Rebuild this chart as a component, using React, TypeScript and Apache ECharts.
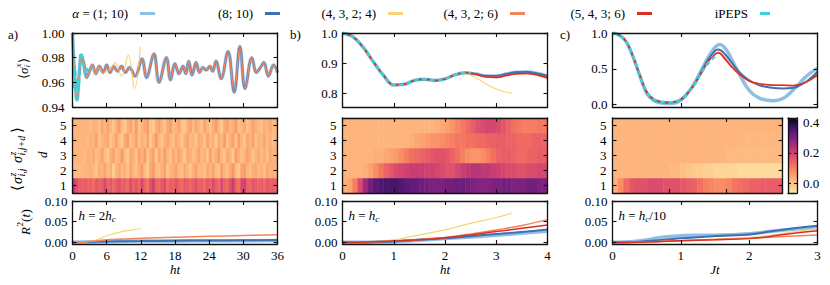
import React, { useEffect, useRef } from 'react';
import * as echarts from 'echarts';

const FONT = 'Liberation Serif';

// ---------- legend / series ----------
const NAMES = ['α = (1; 10)', '(8; 10)', '(4, 3, 2; 4)', '(4, 3, 2; 6)', '(5, 4, 3; 6)', 'iPEPS'];
const COLORS = ['#8fbfe2', '#3f6fb4', '#f9d477', '#f4845a', '#d62f24', '#3fcfd8'];
const WIDTHS = [3.5, 2, 1.2, 1.5, 1.5, 2.5];

// ---------- tick labels ----------
const D_LABELS = ['1', '2', '3', '4', '5'];
const Y1A_TICKS = [0.94, 0.96, 0.98, 1.0];
const Y1B_TICKS = [0.8, 0.9, 1.0];
const Y1C_TICKS = [0, 0.5, 1.0];
const Y3_TICKS = [0, 0.05, 0.1];
const CB_TICKS = [0, 0.2, 0.4];

type P = [number, number][];

// ---------- panel a, <sigma^x> ----------
const aMain: P = [[0, 1.0], [0.35, 0.968], [0.8, 0.946], [1.2, 0.968], [1.6, 0.982], [2.0, 0.975], [2.5, 0.964], [3.0, 0.969], [3.5, 0.974], [4.1, 0.967], [4.7, 0.973], [5.4, 0.968], [6.0, 0.974], [6.6, 0.968], [7.2, 0.973], [7.9, 0.969], [8.6, 0.973], [9.3, 0.968], [10.0, 0.972], [11.0, 0.965], [12.2, 0.979], [13.0, 0.964], [14.3, 0.983], [15.2, 0.96], [16.5, 0.98], [17.2, 0.962], [18.0, 0.975], [18.7, 0.967], [19.4, 0.973], [19.9, 0.967], [20.4, 0.977], [21.0, 0.966], [21.7, 0.976], [22.3, 0.968], [22.9, 0.972], [23.5, 0.97], [24.1, 0.973], [24.6, 0.969], [25.2, 0.977], [26.1, 0.963], [27.3, 0.985], [28.4, 0.952], [29.4, 0.989], [30.3, 0.955], [31.5, 0.98], [32.3, 0.968], [33.0, 0.972], [33.6, 0.976], [34.4, 0.965], [35.3, 0.974], [36.0, 0.968]];
const aYellow: P = [[0, 1.0], [0.35, 0.968], [0.8, 0.946], [1.2, 0.968], [1.6, 0.982], [2.0, 0.975], [2.5, 0.964], [3.0, 0.969], [3.5, 0.974], [4.1, 0.967], [4.7, 0.973], [5.4, 0.968], [6.5, 0.97], [7.5, 0.976], [8.6, 0.965], [9.8, 0.982], [10.9, 0.955], [11.9, 0.989]];
const aCyan: P = [[0, 1.0], [0.15, 0.985], [0.3, 0.955], [0.45, 0.972], [0.6, 0.948], [0.75, 0.944], [0.9, 0.962], [1.05, 0.953], [1.25, 0.972], [1.45, 0.984], [1.7, 0.98], [1.95, 0.972], [2.2, 0.967], [2.5, 0.971], [2.8, 0.968], [3.0, 0.971]];

// ---------- panel b ----------
const bBlue: P = [[0, 1.0], [0.2, 0.988], [0.4, 0.953], [0.6, 0.905], [0.8, 0.86], [1.0, 0.828], [1.2, 0.83], [1.4, 0.843], [1.6, 0.847], [1.8, 0.843], [2.0, 0.848], [2.2, 0.862], [2.4, 0.868], [2.6, 0.864], [2.8, 0.858], [3.0, 0.858], [3.2, 0.864], [3.4, 0.87], [3.6, 0.871], [3.8, 0.866], [4.0, 0.858]];
const bRed: P = [[0, 1.0], [0.2, 0.988], [0.4, 0.953], [0.6, 0.905], [0.8, 0.86], [1.0, 0.828], [1.2, 0.83], [1.4, 0.843], [1.6, 0.847], [1.8, 0.843], [2.0, 0.848], [2.2, 0.862], [2.4, 0.868], [2.6, 0.863], [2.8, 0.855], [3.0, 0.853], [3.2, 0.859], [3.4, 0.865], [3.6, 0.866], [3.8, 0.861], [4.0, 0.852]];
const bOrange: P = [[0, 1.0], [0.2, 0.988], [0.4, 0.953], [0.6, 0.905], [0.8, 0.86], [1.0, 0.828], [1.2, 0.83], [1.4, 0.843], [1.6, 0.847], [1.8, 0.843], [2.0, 0.848], [2.2, 0.862], [2.4, 0.868], [2.6, 0.863], [2.8, 0.855], [3.0, 0.853], [3.2, 0.859], [3.4, 0.865], [3.6, 0.866], [3.8, 0.86], [4.0, 0.849]];
const bYellow: P = [[0, 1.0], [0.2, 0.988], [0.4, 0.953], [0.6, 0.905], [0.8, 0.86], [1.0, 0.828], [1.2, 0.83], [1.4, 0.843], [1.6, 0.847], [1.8, 0.843], [2.0, 0.848], [2.2, 0.862], [2.3, 0.866], [2.5, 0.86], [2.7, 0.842], [2.9, 0.822], [3.1, 0.808], [3.3, 0.802]];
const bCyan: P = [[0, 1.0], [0.2, 0.988], [0.4, 0.953], [0.6, 0.905], [0.8, 0.86], [1.0, 0.828], [1.2, 0.83], [1.4, 0.843], [1.6, 0.847], [1.8, 0.843], [2.0, 0.848], [2.2, 0.862], [2.4, 0.868], [2.5, 0.867]];

// ---------- panel c ----------
const cLight: P = [[0, 1.0], [0.1, 0.97], [0.2, 0.88], [0.3, 0.67], [0.4, 0.4], [0.5, 0.16], [0.6, 0.06], [0.7, 0.025], [0.8, 0.015], [0.9, 0.02], [1.0, 0.06], [1.1, 0.16], [1.2, 0.3], [1.3, 0.48], [1.4, 0.66], [1.5, 0.8], [1.57, 0.84], [1.67, 0.76], [1.77, 0.58], [1.86, 0.42], [2.0, 0.2], [2.15, 0.09], [2.35, 0.055], [2.5, 0.09], [2.64, 0.2], [2.75, 0.31], [2.84, 0.4], [3.0, 0.51]];
const cDark: P = [[0, 1.0], [0.1, 0.97], [0.2, 0.88], [0.3, 0.67], [0.4, 0.41], [0.5, 0.17], [0.6, 0.07], [0.7, 0.035], [0.8, 0.028], [0.9, 0.033], [1.0, 0.07], [1.1, 0.16], [1.2, 0.29], [1.3, 0.46], [1.4, 0.63], [1.5, 0.75], [1.55, 0.77], [1.65, 0.7], [1.75, 0.58], [1.85, 0.46], [2.0, 0.34], [2.15, 0.27], [2.3, 0.24], [2.5, 0.225], [2.65, 0.235], [2.8, 0.3], [2.9, 0.37], [3.0, 0.46]];
const cOrange: P = [[0, 1.0], [0.1, 0.97], [0.2, 0.88], [0.3, 0.67], [0.4, 0.41], [0.5, 0.18], [0.6, 0.08], [0.7, 0.045], [0.8, 0.035], [0.9, 0.04], [1.0, 0.075], [1.1, 0.16], [1.2, 0.28], [1.3, 0.44], [1.4, 0.6], [1.5, 0.71], [1.55, 0.73], [1.65, 0.65], [1.75, 0.53], [1.85, 0.43], [2.0, 0.33], [2.15, 0.29], [2.3, 0.275], [2.5, 0.27], [2.65, 0.27], [2.8, 0.3], [2.9, 0.35], [3.0, 0.41]];
const cRed: P = [[0, 1.0], [0.1, 0.97], [0.2, 0.88], [0.3, 0.67], [0.4, 0.41], [0.5, 0.18], [0.6, 0.08], [0.7, 0.045], [0.8, 0.035], [0.9, 0.04], [1.0, 0.075], [1.1, 0.16], [1.2, 0.28], [1.3, 0.44], [1.4, 0.6], [1.5, 0.7], [1.55, 0.72], [1.65, 0.63], [1.75, 0.52], [1.85, 0.43], [2.0, 0.33], [2.15, 0.29], [2.3, 0.275], [2.5, 0.27], [2.65, 0.265], [2.8, 0.3], [2.9, 0.35], [3.0, 0.42]];
const cCyan: P = [[0, 1.0], [0.1, 0.97], [0.2, 0.88], [0.3, 0.67], [0.4, 0.41], [0.5, 0.18], [0.6, 0.08], [0.7, 0.045], [0.8, 0.035], [0.9, 0.04], [1.0, 0.075], [1.1, 0.16], [1.2, 0.28], [1.3, 0.44], [1.4, 0.58], [1.5, 0.67]];

// ---------- R^2(t) ----------
const aR_light: P = [[0, 0], [3, 0.001], [6, 0.002], [12, 0.003], [18, 0.0035], [24, 0.004], [30, 0.004], [36, 0.0045]];
const aR_dark: P = [[0, 0], [3, 0.001], [6, 0.002], [12, 0.003], [18, 0.004], [24, 0.0045], [30, 0.005], [36, 0.0055]];
const aR_yellow: P = [[0, 0], [2, 0.001], [3, 0.002], [4, 0.005], [5, 0.01], [6, 0.016], [7, 0.02], [8, 0.0235], [9, 0.027], [10, 0.029], [11, 0.031], [12, 0.033]];
const aR_orange: P = [[0, 0], [2, 0.001], [4, 0.003], [6, 0.006], [9, 0.008], [12, 0.01], [18, 0.0125], [24, 0.0145], [30, 0.0165], [36, 0.0185]];
const bR_light: P = [[0, 0], [0.5, 0.0005], [1, 0.002], [1.5, 0.005], [2, 0.009], [2.5, 0.013], [3, 0.017], [3.5, 0.022], [4, 0.027]];
const bR_dark: P = [[0, 0], [0.5, 0.0005], [1, 0.002], [1.5, 0.006], [2, 0.01], [2.5, 0.015], [3, 0.02], [3.5, 0.025], [4, 0.031]];
const bR_yellow: P = [[0, 0], [0.5, 0.001], [1, 0.006], [1.5, 0.018], [2, 0.03], [2.5, 0.046], [3, 0.06], [3.3, 0.071]];
const bR_orange: P = [[0, 0], [0.5, 0.001], [1, 0.003], [1.5, 0.007], [2, 0.012], [2.5, 0.02], [3, 0.03], [3.5, 0.041], [4, 0.055]];
const bR_red: P = [[0, 0], [0.5, 0.001], [1, 0.003], [1.5, 0.006], [2, 0.011], [2.5, 0.018], [3, 0.026], [3.5, 0.034], [4, 0.042]];
const cR_light: P = [[0, 0], [0.3, 0.002], [0.5, 0.006], [0.7, 0.012], [0.9, 0.015], [1.2, 0.017], [1.6, 0.018], [2.0, 0.021], [2.3, 0.026], [2.6, 0.031], [3.0, 0.036]];
const cR_dark: P = [[0, 0], [0.3, 0.001], [0.5, 0.003], [0.8, 0.007], [1.0, 0.01], [1.3, 0.013], [1.6, 0.016], [2.0, 0.019], [2.3, 0.026], [2.6, 0.033], [3.0, 0.04]];
const cR_yellow: P = [[0, 0], [0.5, 0.001], [1.0, 0.005], [1.5, 0.008], [2.0, 0.012], [2.3, 0.017], [2.6, 0.024], [3.0, 0.033]];
const cR_orange: P = [[0, 0], [0.5, 0.001], [1.0, 0.004], [1.5, 0.007], [2.0, 0.01], [2.5, 0.014], [3.0, 0.018]];
const cR_red: P = [[0, 0], [0.5, 0.001], [1.0, 0.004], [1.5, 0.006], [2.0, 0.009], [2.3, 0.014], [2.6, 0.021], [3.0, 0.028]];

// ---------- heatmaps: rows d = 1..5 ----------
const hmA1 = [0.22, 0.18, 0.15, 0.14, 0.15, 0.14, 0.15, 0.13, 0.16, 0.14, 0.15, 0.19, 0.14, 0.16, 0.13, 0.15, 0.17, 0.14, 0.15, 0.13, 0.18, 0.14, 0.16, 0.13, 0.19, 0.14, 0.12, 0.17, 0.2, 0.14, 0.13, 0.16, 0.18, 0.13, 0.15, 0.14, 0.17, 0.14, 0.13, 0.16, 0.15, 0.13, 0.15, 0.17, 0.14, 0.15, 0.13, 0.16, 0.14, 0.18, 0.15, 0.13, 0.19, 0.14, 0.13, 0.17, 0.21, 0.14, 0.12, 0.19, 0.2, 0.14, 0.13, 0.16, 0.15, 0.14, 0.15, 0.13, 0.16, 0.14, 0.15, 0.14];
const hmA2 = [0.01, 0.01, 0.01, 0.01, 0.02, 0.02, 0.03, 0.01, -0.01, 0.03, 0.02, 0.05, 0.01, 0.03, -0.02, 0.02, 0.04, 0.01, 0.03, -0.01, 0.05, 0.02, 0.0, 0.03, 0.06, 0.01, -0.02, 0.04, 0.06, 0.01, 0.0, 0.03, 0.05, -0.01, 0.02, 0.03, 0.05, 0.01, 0.0, 0.04, 0.02, -0.01, 0.03, 0.05, 0.01, 0.02, 0.0, 0.04, 0.02, 0.05, 0.01, -0.01, 0.06, 0.02, 0.0, 0.04, 0.07, 0.01, -0.02, 0.05, 0.06, 0.02, 0.0, 0.03, 0.04, 0.01, 0.03, 0.0, 0.04, 0.02, 0.03, 0.02];
const hmA3 = [0.02, 0.02, 0.02, 0.02, 0.01, 0.03, 0.02, 0.04, 0.0, 0.02, 0.05, 0.01, -0.02, 0.03, 0.05, 0.0, 0.02, 0.06, 0.01, -0.02, 0.04, 0.03, -0.01, 0.05, 0.02, 0.06, -0.01, 0.03, 0.05, -0.02, 0.04, 0.01, 0.06, 0.02, -0.01, 0.04, 0.01, 0.05, 0.02, -0.01, 0.04, 0.03, 0.0, 0.02, 0.05, 0.01, 0.03, -0.01, 0.05, 0.0, 0.03, 0.06, 0.01, -0.01, 0.04, 0.02, -0.02, 0.06, 0.03, 0.0, 0.02, 0.05, 0.03, -0.01, 0.02, 0.04, 0.01, 0.03, 0.0, 0.04, 0.02, 0.03];
const hmA4 = [0.02, 0.02, 0.02, 0.02, 0.02, 0.01, 0.03, 0.02, 0.05, -0.01, 0.02, 0.03, 0.04, -0.01, 0.02, 0.05, 0.01, -0.02, 0.04, 0.06, 0.0, 0.02, 0.05, -0.01, 0.03, 0.01, 0.05, -0.02, 0.02, 0.06, 0.01, -0.01, 0.03, 0.05, 0.02, 0.0, 0.04, 0.02, -0.01, 0.03, 0.05, 0.01, 0.02, -0.01, 0.04, 0.03, 0.0, 0.05, 0.01, 0.03, -0.02, 0.04, 0.02, 0.06, -0.01, 0.03, 0.05, 0.0, 0.06, 0.02, -0.01, 0.04, 0.02, 0.05, 0.0, 0.03, 0.02, 0.04, 0.01, 0.03, 0.0, 0.02];
const hmA5 = [0.02, 0.02, 0.02, 0.02, 0.02, 0.02, 0.01, 0.03, 0.02, 0.0, 0.04, 0.02, 0.05, 0.02, -0.01, 0.03, 0.06, 0.01, -0.02, 0.03, 0.05, 0.01, 0.06, -0.01, 0.02, 0.04, 0.06, 0.0, -0.02, 0.03, 0.05, 0.02, -0.01, 0.04, 0.06, 0.01, 0.02, 0.05, 0.0, -0.01, 0.03, 0.05, 0.01, 0.04, 0.02, 0.0, 0.05, 0.02, -0.01, 0.03, 0.06, 0.02, -0.02, 0.04, 0.05, 0.01, 0.03, 0.06, 0.0, 0.02, 0.04, -0.01, 0.02, 0.05, 0.03, 0.01, 0.0, 0.03, 0.02, 0.04, 0.01, 0.02];

const hmB1 = [0.03, 0.05, 0.1, 0.18, 0.26, 0.31, 0.34, 0.35, 0.36, 0.36, 0.36, 0.35, 0.34, 0.33, 0.33, 0.32, 0.31, 0.3, 0.3, 0.3, 0.31, 0.31, 0.32, 0.32, 0.31, 0.3, 0.29, 0.29, 0.29, 0.3, 0.3, 0.31, 0.31, 0.3, 0.3, 0.3, 0.31, 0.31, 0.3, 0.3];
const hmB2 = [0.02, 0.02, 0.02, 0.02, 0.03, 0.05, 0.08, 0.11, 0.14, 0.16, 0.18, 0.19, 0.2, 0.21, 0.21, 0.21, 0.2, 0.2, 0.19, 0.18, 0.17, 0.17, 0.19, 0.21, 0.22, 0.23, 0.23, 0.22, 0.22, 0.21, 0.2, 0.19, 0.18, 0.18, 0.17, 0.17, 0.18, 0.18, 0.19, 0.19];
const hmB3 = [0.02, 0.02, 0.02, 0.02, 0.02, 0.02, 0.03, 0.03, 0.04, 0.05, 0.06, 0.08, 0.1, 0.12, 0.13, 0.14, 0.15, 0.16, 0.17, 0.17, 0.16, 0.14, 0.12, 0.1, 0.08, 0.07, 0.07, 0.08, 0.1, 0.12, 0.14, 0.15, 0.15, 0.14, 0.13, 0.13, 0.14, 0.14, 0.15, 0.15];
const hmB4 = [0.02, 0.02, 0.02, 0.02, 0.02, 0.02, 0.02, 0.02, 0.02, 0.02, 0.02, 0.02, 0.02, 0.03, 0.04, 0.05, 0.06, 0.07, 0.07, 0.08, 0.09, 0.1, 0.11, 0.11, 0.12, 0.12, 0.13, 0.13, 0.14, 0.14, 0.15, 0.15, 0.14, 0.14, 0.13, 0.13, 0.13, 0.14, 0.14, 0.14];
const hmB5 = [0.02, 0.02, 0.02, 0.02, 0.02, 0.02, 0.02, 0.02, 0.02, 0.02, 0.02, 0.02, 0.02, 0.02, 0.02, 0.02, 0.02, 0.02, 0.03, 0.04, 0.05, 0.07, 0.09, 0.11, 0.13, 0.15, 0.17, 0.18, 0.19, 0.19, 0.18, 0.16, 0.14, 0.12, 0.11, 0.1, 0.1, 0.1, 0.11, 0.11];

const hmC1 = [0.03, 0.08, 0.13, 0.16, 0.17, 0.17, 0.18, 0.18, 0.18, 0.17, 0.17, 0.17, 0.16, 0.15, 0.14, 0.12, 0.1, 0.09, 0.08, 0.08, 0.09, 0.11, 0.12, 0.13, 0.14, 0.14, 0.15, 0.15, 0.15, 0.15];
const hmC2 = [0.02, 0.02, 0.02, 0.02, 0.02, 0.02, 0.02, 0.02, 0.02, 0.02, 0.01, 0.01, 0.0, -0.01, -0.02, -0.02, -0.03, -0.03, -0.04, -0.04, -0.04, -0.04, -0.05, -0.05, -0.05, -0.05, -0.05, -0.05, -0.05, -0.05];
const hmC3 = [0.02, 0.02, 0.02, 0.02, 0.02, 0.02, 0.02, 0.02, 0.02, 0.02, 0.02, 0.02, 0.02, 0.02, 0.02, 0.02, 0.02, 0.02, 0.02, 0.02, 0.01, 0.01, 0.01, 0.01, 0.01, 0.01, 0.01, 0.01, 0.01, 0.01];
const hmC4 = [0.02, 0.02, 0.02, 0.02, 0.02, 0.02, 0.02, 0.02, 0.02, 0.02, 0.02, 0.02, 0.02, 0.02, 0.02, 0.02, 0.02, 0.02, 0.02, 0.02, 0.02, 0.02, 0.015, 0.015, 0.015, 0.015, 0.015, 0.015, 0.015, 0.015];
const hmC5 = [0.02, 0.02, 0.02, 0.02, 0.02, 0.02, 0.02, 0.02, 0.02, 0.02, 0.02, 0.02, 0.02, 0.02, 0.02, 0.02, 0.02, 0.02, 0.02, 0.02, 0.02, 0.02, 0.02, 0.02, 0.02, 0.02, 0.02, 0.02, 0.02, 0.02];

const CMAP = ['#fce3a3', '#fdcb8e', '#fdb27b', '#fb9468', '#f4735f', '#e45769', '#cc3f71', '#a72f7b', '#80237f', '#5a1a78', '#2f1057', '#07061c'];
const CB_MIN = -0.065;
const CB_MAX = 0.43;

// ---------- layout ----------
const COLS = [72.5, 342.5, 612.5];
const W = 205;
const R1 = { top: 33, h: 74 };
const R2 = { top: 118, h: 75 };
const R3 = { top: 201, h: 43 };

const LINE = { show: true, onZero: false, lineStyle: { color: '#111', width: 1.3 } };
const TICK = { show: true, inside: true, length: 4, lineStyle: { color: '#111', width: 1.1 } };
const LBL = { color: '#000', fontSize: 13, fontFamily: FONT };

function buildOption() {
  const grids: any[] = [];
  const xAxes: any[] = [];
  const yAxes: any[] = [];
  const series: any[] = [];
  const heatIdx: number[] = [];

  function linePanel(left: number, top: number, height: number, xr: number[], yr: number[], yTicks: number[], yDec: number, lines: [number, P][], xLabels: boolean, xName?: string, yMargin = 6) {
    const g = grids.length;
    grids.push({ left, top, width: W, height });
    const xi = xAxes.length;
    xAxes.push({
      type: 'value', gridIndex: g, position: 'bottom', min: xr[0], max: xr[1], interval: xr[2], z: 10,
      axisLine: LINE, axisTick: TICK, splitLine: { show: false },
      axisLabel: { ...LBL, show: xLabels, margin: 5 },
      name: xName, nameLocation: 'middle', nameGap: 19,
      nameTextStyle: { ...LBL, fontStyle: 'italic' },
    });
    xAxes.push({
      type: 'value', gridIndex: g, position: 'top', min: xr[0], max: xr[1], interval: xr[2], z: 10,
      axisLine: LINE, axisTick: TICK, splitLine: { show: false }, axisLabel: { show: false },
    });
    const yi = yAxes.length;
    yAxes.push({
      type: 'value', gridIndex: g, position: 'left', min: yr[0], max: yr[1], z: 10,
      axisLine: LINE, axisTick: { ...TICK, customValues: yTicks }, splitLine: { show: false },
      axisLabel: { ...LBL, margin: yMargin, customValues: yTicks, formatter: (v: number) => v.toFixed(yDec) },
    });
    yAxes.push({
      type: 'value', gridIndex: g, position: 'right', min: yr[0], max: yr[1], z: 10,
      axisLine: LINE, axisTick: { ...TICK, customValues: yTicks }, splitLine: { show: false }, axisLabel: { show: false },
    });
    lines.forEach(([k, data]) => {
      series.push({
        type: 'line', name: NAMES[k], xAxisIndex: xi, yAxisIndex: yi, data,
        smooth: 0.4, symbol: 'none', showSymbol: false, silent: true, clip: true,
        color: COLORS[k], itemStyle: { color: COLORS[k] },
        lineStyle: { color: COLORS[k], width: WIDTHS[k], type: k === 5 ? [5, 3] : 'solid' },
        emphasis: { disabled: true }, z: 2 + k * 0.1,
      });
    });
  }

  function heatPanel(left: number, width: number, xr: number[], rows: number[][]) {
    const g = grids.length;
    grids.push({ left, top: R2.top, width, height: R2.h });
    const xi = xAxes.length;
    xAxes.push({ type: 'category', gridIndex: g, data: rows[0].map((_, i) => String(i)), show: false });
    const yi = yAxes.length;
    yAxes.push({
      type: 'category', gridIndex: g, position: 'left', data: D_LABELS, z: 10,
      axisLine: LINE, axisTick: { ...TICK, alignWithLabel: true, interval: 0 }, splitLine: { show: false },
      axisLabel: { ...LBL, margin: 6, interval: 0 },
    });
    yAxes.push({
      type: 'category', gridIndex: g, position: 'right', data: D_LABELS, z: 10,
      axisLine: LINE, axisTick: { ...TICK, alignWithLabel: true, interval: 0 }, splitLine: { show: false }, axisLabel: { show: false },
    });
    const data: number[][] = [];
    rows.forEach((row, j) => row.forEach((v, i) => data.push([i, j, v])));
    heatIdx.push(series.length);
    series.push({ type: 'heatmap', xAxisIndex: xi, yAxisIndex: yi, data, silent: true, emphasis: { disabled: true }, progressive: 0, z: 1 });
    const g2 = grids.length;
    grids.push({ left, top: R2.top, width, height: R2.h });
    xAxes.push({
      type: 'value', gridIndex: g2, position: 'bottom', min: xr[0], max: xr[1], interval: xr[2], z: 10,
      axisLine: LINE, axisTick: TICK, splitLine: { show: false }, axisLabel: { show: false },
    });
    xAxes.push({
      type: 'value', gridIndex: g2, position: 'top', min: xr[0], max: xr[1], interval: xr[2], z: 10,
      axisLine: LINE, axisTick: TICK, splitLine: { show: false }, axisLabel: { show: false },
    });
    yAxes.push({ type: 'value', gridIndex: g2, show: false, min: 0, max: 1 });
  }

  // row 1
  linePanel(COLS[0], R1.top, R1.h, [0, 36, 6], [0.94, 1.0], Y1A_TICKS, 2,
    [[0, aMain], [1, aMain], [2, aYellow], [3, aMain], [5, aCyan]], false, undefined, 8);
  linePanel(COLS[1], R1.top, R1.h, [0, 4, 1], [0.755, 1.0], Y1B_TICKS, 1,
    [[0, bBlue], [1, bBlue], [2, bYellow], [3, bOrange], [4, bRed], [5, bCyan]], false, undefined, 5);
  linePanel(COLS[2], R1.top, R1.h, [0, 3, 1], [-0.033, 1.0], Y1C_TICKS, 1,
    [[0, cLight], [1, cDark], [3, cOrange], [4, cRed], [5, cCyan]], false, undefined, 5);
  // row 3
  linePanel(COLS[0], R3.top, R3.h, [0, 36, 6], [-0.004, 0.1], Y3_TICKS, 2,
    [[0, aR_light], [1, aR_dark], [2, aR_yellow], [3, aR_orange]], true, 'ht', 5);
  linePanel(COLS[1], R3.top, R3.h, [0, 4, 1], [-0.004, 0.1], Y3_TICKS, 2,
    [[0, bR_light], [1, bR_dark], [2, bR_yellow], [3, bR_orange], [4, bR_red]], true, 'ht', 5);
  linePanel(COLS[2], R3.top, R3.h, [0, 3, 1], [-0.004, 0.1], Y3_TICKS, 2,
    [[0, cR_light], [1, cR_dark], [2, cR_yellow], [3, cR_orange], [4, cR_red]], true, 'Jt', 5);
  // row 2
  heatPanel(COLS[0], W, [0, 36, 6], [hmA1, hmA2, hmA3, hmA4, hmA5]);
  heatPanel(COLS[1], W, [0, 4, 1], [hmB1, hmB2, hmB3, hmB4, hmB5]);
  heatPanel(COLS[2], 170, [0, 3, 1], [hmC1, hmC2, hmC3, hmC4, hmC5]);

  // colorbar frame
  const CB = { left: 788, top: R2.top, width: 9, height: R2.h };
  const gc = grids.length;
  grids.push(CB);
  xAxes.push({ type: 'value', gridIndex: gc, position: 'bottom', min: 0, max: 1, z: 10, axisLine: LINE, axisTick: { show: false }, axisLabel: { show: false }, splitLine: { show: false } });
  xAxes.push({ type: 'value', gridIndex: gc, position: 'top', min: 0, max: 1, z: 10, axisLine: LINE, axisTick: { show: false }, axisLabel: { show: false }, splitLine: { show: false } });
  yAxes.push({ type: 'value', gridIndex: gc, position: 'left', min: CB_MIN, max: CB_MAX, z: 10, axisLine: LINE, axisTick: { ...TICK, length: 3, customValues: CB_TICKS }, axisLabel: { show: false }, splitLine: { show: false } });
  yAxes.push({ type: 'value', gridIndex: gc, position: 'right', min: CB_MIN, max: CB_MAX, z: 10, axisLine: LINE, axisTick: { ...TICK, length: 3, customValues: CB_TICKS }, splitLine: { show: false },
    axisLabel: { ...LBL, margin: 6, customValues: CB_TICKS, formatter: (v: number) => v.toFixed(1) } });

  // legends
  const legendRights = [675, 550, 427, 305, 178, 60];
  const legend = NAMES.map((nm, k) => ({
    data: [nm], right: legendRights[k], top: 7, align: 'right', orient: 'horizontal',
    itemWidth: k === 5 ? 10 : 15, itemHeight: 3, icon: 'rect', selectedMode: false, padding: 0,
    formatter: (n: string) => n.replace('α', '{i|α}'),
    textStyle: { ...LBL, padding: [0, 7, 0, 0], rich: { i: { ...LBL, fontStyle: 'italic' } } },
  }));

  // texts
  const T = (x: number, y: number, text: string, size = 13, italic = false, extra: any = {}) => ({
    type: 'text', x, y, silent: true,
    style: { text, fontFamily: FONT, fontSize: size, fontStyle: italic ? 'italic' : 'normal', fill: '#000',
      align: 'left', verticalAlign: 'middle', textAlign: 'left', textVerticalAlign: 'middle', ...extra },
  });
  const RICH = {
    i: { fontFamily: FONT, fontSize: 13, fontStyle: 'italic', fill: '#000' },
    s: { fontFamily: FONT, fontSize: 9, fontStyle: 'italic', fill: '#000', padding: [7, 0, 0, 0] },
  };
  const rot = Math.PI / 2;
  const graphic: any[] = [
    T(8, 34, 'a)'), T(290, 34, 'b)'), T(560, 34, 'c)'),
    T(COLS[0] + 6, 215, '{i|h} = 2{i|h}{s|c}', 13, false, { rich: RICH }),
    T(COLS[1] + 6, 215, '{i|h} = {i|h}{s|c}', 13, false, { rich: RICH }),
    T(COLS[2] + 6, 215, '{i|h} = {i|h}{s|c}/10', 13, false, { rich: RICH }),
    {
      type: 'group', x: 23, y: 68, rotation: rot, children: [
        T(-11, 0, '⟨'), T(-6, 0, 'σ', 13, true), T(0.5, -5, 'x', 9, true), T(0.5, 4, 'i', 9, true), T(5, 0, '⟩'),
      ],
    },
    {
      type: 'group', x: 17, y: 155, rotation: rot, children: [
        T(-36, 0, '⟨', 15), T(-29, 0, 'σ', 14, true), T(-21.5, -5, 'z', 10, true), T(-21.5, 4.5, 'i,j', 10, true),
        T(-8, 0, 'σ', 14, true), T(-0.5, -5, 'z', 10, true), T(-0.5, 4.5, 'i,j+d', 10, true), T(22, 0, '⟩', 15),
      ],
    },
    { type: 'group', x: 42, y: 155, rotation: rot, children: [T(-3, 0, 'd', 13, true)] },
    {
      type: 'group', x: 25, y: 222, rotation: rot, children: [
        T(-13, 0, 'R', 13, true), T(-4.5, -5, '2', 9), T(0, 0, '('), T(4.5, 0, 't', 13, true), T(8.5, 0, ')'),
      ],
    },
  ];

  return {
    animation: false,
    backgroundColor: '#fff',
    textStyle: { fontFamily: FONT },
    grid: grids,
    xAxis: xAxes,
    yAxis: yAxes,
    legend,
    visualMap: {
      type: 'continuous', min: CB_MIN, max: CB_MAX, seriesIndex: heatIdx, show: true,
      left: CB.left, top: CB.top, itemWidth: CB.width, itemHeight: CB.height, padding: 0,
      calculable: false, hoverLink: false, orient: 'vertical', inRange: { color: CMAP },
    },
    graphic,
    series,
  };
}

export default function App() {
  const ref = useRef<HTMLDivElement>(null);
  useEffect(() => {
    const chart = echarts.init(ref.current!, null, { renderer: 'svg' });
    chart.setOption(buildOption() as any);
    return () => chart.dispose();
  }, []);
  return <div ref={ref} style={{ position: 'absolute', left: 0, top: 0, width: 830, height: 285, background: '#fff' }} />;
}
